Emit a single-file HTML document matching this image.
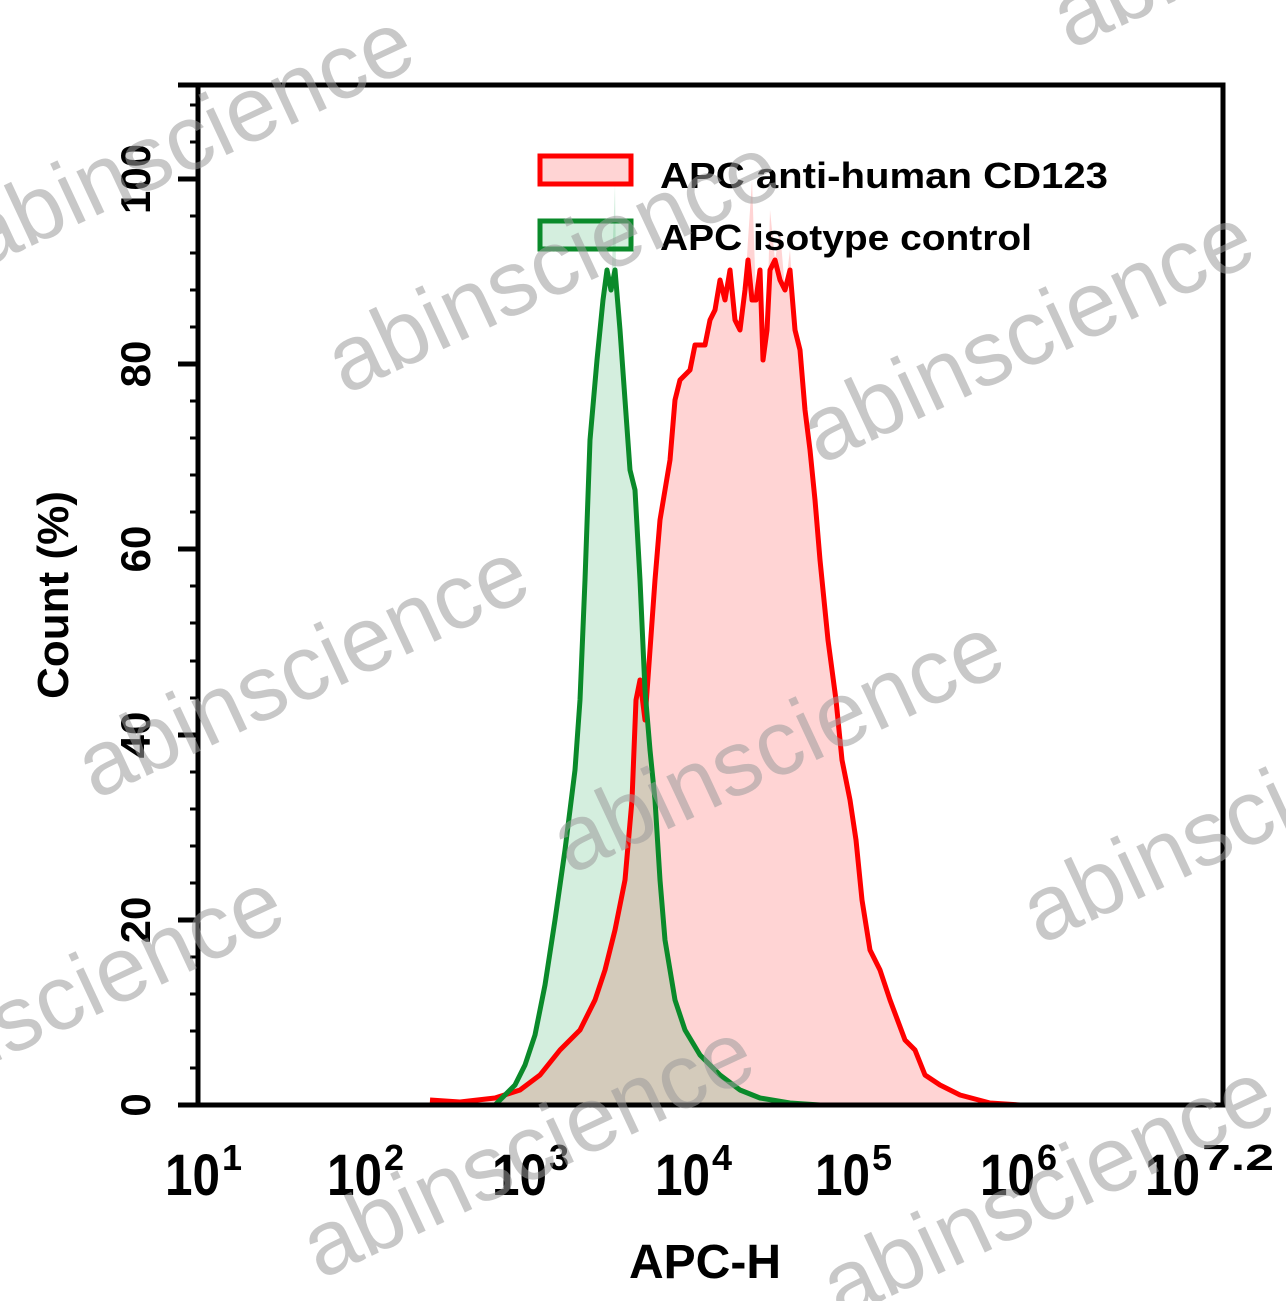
<!DOCTYPE html>
<html><head><meta charset="utf-8"><style>
html,body{margin:0;padding:0;background:#fff;}
svg{display:block;font-family:"Liberation Sans",Arial,sans-serif;}
</style></head><body>
<svg width="1286" height="1301" viewBox="0 0 1286 1301" xmlns="http://www.w3.org/2000/svg">
<rect width="1286" height="1301" fill="#fff"/>
<polygon fill="rgba(255,60,60,0.22)" points="430,1105 430,1100 460,1102 495,1098 520,1090 540,1075 560,1050 580,1030 595,1000 605,970 615,930 625,880 632,800 636,700 640,680 645,720 650,650 655,580 660,520 665,490 670,460 675,400 680,380 690,370 695,345 705,345 710,320 715,310 720,280 725,300 730,270 735,320 740,330 745,290 748,240 752,180 756,300 760,270 763,360 767,330 770,210 775,260 780,230 785,290 790,250 795,330 800,350 805,410 810,450 815,500 820,560 828,640 836,700 842,760 850,800 856,840 862,900 870,950 880,970 890,1000 905,1040 915,1050 925,1075 940,1085 960,1095 990,1103 1020,1105"/>
<polygon fill="rgba(40,170,90,0.2)" points="495,1105 505,1095 515,1085 525,1065 535,1035 545,985 555,920 565,850 575,770 580,700 585,580 590,440 597,360 603,300 607,270 611,290 615,185 616,270 620,330 625,400 630,470 635,490 640,580 645,690 650,750 655,800 660,880 665,940 675,1000 685,1030 700,1055 720,1075 740,1090 760,1098 790,1103 820,1105"/>
<polyline fill="none" stroke="#ff0000" stroke-width="5" stroke-linejoin="round" points="430,1100 460,1102 495,1098 520,1090 540,1075 560,1050 580,1030 595,1000 605,970 615,930 625,880 632,800 636,700 640,680 645,720 650,650 655,580 660,520 665,490 670,460 675,400 680,380 690,370 695,345 705,345 710,320 715,310 720,280 725,300 730,270 735,320 740,330 745,290 748,260 752,300 756,300 760,270 763,360 767,330 770,270 775,260 780,280 785,290 790,270 795,330 800,350 805,410 810,450 815,500 820,560 828,640 836,700 842,760 850,800 856,840 862,900 870,950 880,970 890,1000 905,1040 915,1050 925,1075 940,1085 960,1095 990,1103 1020,1105"/>
<polyline fill="none" stroke="#0a8a2a" stroke-width="5" stroke-linejoin="round" points="495,1105 505,1095 515,1085 525,1065 535,1035 545,985 555,920 565,850 575,770 580,700 585,580 590,440 597,360 603,300 607,270 611,290 615,270 620,330 625,400 630,470 635,490 640,580 645,690 650,750 655,800 660,880 665,940 675,1000 685,1030 700,1055 720,1075 740,1090 760,1098 790,1103 820,1105"/>
<rect x="198" y="85" width="1025" height="1020" fill="none" stroke="#000" stroke-width="5"/>
<g stroke="#000" stroke-width="5">
<line x1="178" y1="85" x2="198" y2="85"/>
<line x1="178" y1="179" x2="198" y2="179"/><line x1="178" y1="364" x2="198" y2="364"/><line x1="178" y1="549" x2="198" y2="549"/><line x1="178" y1="735" x2="198" y2="735"/><line x1="178" y1="920" x2="198" y2="920"/><line x1="178" y1="1105" x2="198" y2="1105"/>
</g>
<g stroke="#000" stroke-width="3">
<line x1="190" y1="105" x2="198" y2="105"/><line x1="190" y1="142" x2="198" y2="142"/>
<line x1="190" y1="216" x2="198" y2="216"/><line x1="190" y1="253" x2="198" y2="253"/><line x1="190" y1="290" x2="198" y2="290"/><line x1="190" y1="327" x2="198" y2="327"/>
<line x1="190" y1="401" x2="198" y2="401"/><line x1="190" y1="438" x2="198" y2="438"/><line x1="190" y1="475" x2="198" y2="475"/><line x1="190" y1="512" x2="198" y2="512"/>
<line x1="190" y1="586" x2="198" y2="586"/><line x1="190" y1="623" x2="198" y2="623"/><line x1="190" y1="661" x2="198" y2="661"/><line x1="190" y1="698" x2="198" y2="698"/>
<line x1="190" y1="772" x2="198" y2="772"/><line x1="190" y1="809" x2="198" y2="809"/><line x1="190" y1="846" x2="198" y2="846"/><line x1="190" y1="883" x2="198" y2="883"/>
<line x1="190" y1="957" x2="198" y2="957"/><line x1="190" y1="994" x2="198" y2="994"/><line x1="190" y1="1031" x2="198" y2="1031"/><line x1="190" y1="1068" x2="198" y2="1068"/>
</g>
<g id="xt" stroke="#000" stroke-width="5"></g>
<script>
(function(){
var g=document.getElementById('xt'),s='';
var x0=198,d=164;
for(var k=0;k<=6;k++){var X=x0+k*d;s+='<line x1="'+X+'" y1="1105" x2="'+X+'" y2="1127"/>';
 if(k<6)for(var m=2;m<=9;m++){var xm=X+Math.log10(m)*d;s+='<line x1="'+xm+'" y1="1105" x2="'+xm+'" y2="1114" stroke-width="3"/>';}}
s+='<line x1="1223" y1="1105" x2="1223" y2="1127"/>';
g.innerHTML=s;})();
</script>
<g font-size="42" fill="#000" text-anchor="middle" font-weight="bold">
<text transform="translate(150,179) rotate(-90)">100</text>
<text transform="translate(150,364) rotate(-90)">80</text>
<text transform="translate(150,549) rotate(-90)">60</text>
<text transform="translate(150,735) rotate(-90)">40</text>
<text transform="translate(150,920) rotate(-90)">20</text>
<text transform="translate(150,1105) rotate(-90)">0</text>
<text transform="translate(68,595) rotate(-90)" font-size="44">Count (%)</text>
</g>
<g font-size="58" fill="#000" font-weight="bold">
<text x="165" y="1195" textLength="55" lengthAdjust="spacingAndGlyphs">10</text><text x="222" y="1170" font-size="36">1</text>
<text x="327" y="1195" textLength="55" lengthAdjust="spacingAndGlyphs">10</text><text x="384" y="1170" font-size="36">2</text>
<text x="492" y="1195" textLength="55" lengthAdjust="spacingAndGlyphs">10</text><text x="549" y="1170" font-size="36">3</text>
<text x="655" y="1195" textLength="55" lengthAdjust="spacingAndGlyphs">10</text><text x="712" y="1170" font-size="36">4</text>
<text x="815" y="1195" textLength="55" lengthAdjust="spacingAndGlyphs">10</text><text x="872" y="1170" font-size="36">5</text>
<text x="980" y="1195" textLength="55" lengthAdjust="spacingAndGlyphs">10</text><text x="1037" y="1170" font-size="36">6</text>
<text x="1145" y="1195" textLength="55" lengthAdjust="spacingAndGlyphs">10</text><text x="1202" y="1170" font-size="36" textLength="72" lengthAdjust="spacingAndGlyphs">7.2</text>
<text x="705" y="1278" font-size="48" text-anchor="middle">APC-H</text>
</g>
<rect x="540" y="156" width="91" height="28" fill="rgba(255,60,60,0.22)" stroke="#ff0000" stroke-width="5"/>
<rect x="540" y="221" width="91" height="28" fill="rgba(40,170,90,0.2)" stroke="#0a8a2a" stroke-width="5"/>
<text x="660" y="188" font-size="36" font-weight="bold" textLength="448" lengthAdjust="spacingAndGlyphs">APC anti-human CD123</text>
<text x="660" y="250" font-size="36" font-weight="bold" textLength="372" lengthAdjust="spacingAndGlyphs">APC isotype control</text>
<g font-size="92" fill="#9a9a9a" fill-opacity="0.55">
<text transform="translate(-20,270) rotate(-25)">abinscience</text>
<text transform="translate(345,395) rotate(-25)">abinscience</text>
<text transform="translate(820,465) rotate(-25)">abinscience</text>
<text transform="translate(95,800) rotate(-25)">abinscience</text>
<text transform="translate(570,875) rotate(-25)">abinscience</text>
<text transform="translate(1040,945) rotate(-25)">abinscience</text>
<text transform="translate(-150,1130) rotate(-25)">abinscience</text>
<text transform="translate(320,1280) rotate(-25)">abinscience</text>
<text transform="translate(840,1320) rotate(-25)">abinscience</text>
<text transform="translate(1070,50) rotate(-25)">abinscience</text>
</g>
</svg>
</body></html>
